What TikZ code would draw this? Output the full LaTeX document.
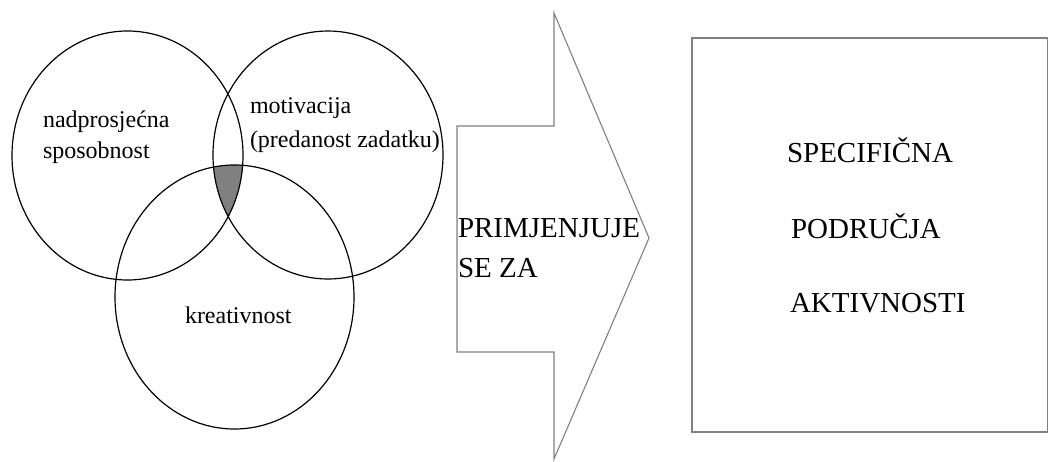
\documentclass[tikz,border=0pt]{standalone}
\usepackage{fontspec}
\newfontfamily\timesfont{LiberationSerif}[Extension=.ttf,UprightFont=*-Regular]
\begin{document}
\begin{tikzpicture}[x=1pt,y=-1pt,
  circ/.style={draw=black,line width=1.2pt},
  grayline/.style={draw=black!50,line width=1.1pt},
  lbl/.style={anchor=base west,inner sep=0pt,outer sep=0pt,font=\timesfont\fontsize{24}{28}\selectfont},
  captext/.style={anchor=base west,inner sep=0pt,outer sep=0pt,font=\timesfont\fontsize{29}{34}\selectfont}]
\useasboundingbox (0,0) rectangle (1049,461);
% shaded intersection
\begin{scope}
  \clip (127.5,155.5) ellipse [x radius=115.5, y radius=124.5];
  \clip (328,155) ellipse [x radius=115, y radius=124];
  \fill[black!50] (234.5,297) ellipse [x radius=119.5, y radius=132];
\end{scope}
% circles
\draw[circ] (127.5,155.5) ellipse [x radius=115.5, y radius=124.5];
\draw[circ] (328,155) ellipse [x radius=115, y radius=124];
\draw[circ] (234.5,297) ellipse [x radius=119.5, y radius=132];
% circle labels
\node[lbl] (n1) at (43,127) {nadprosjećna};
\node[lbl] (n2) at (43,158) {sposobnost};
\node[lbl] (m1) at (250,113) {motivacija};
\node[lbl] (m2) at (250,147) {(predanost zadatku)};
\node[lbl] (k1) at (185,323) {kreativnost};
% block arrow
\draw[grayline,line join=miter] (457,126) -- (554,126) -- (554,13) -- (649,238) -- (554,459) -- (554,352) -- (457,352) -- cycle;
\node[captext] (p1) at (458,237) {PRIMJENJUJE};
\node[captext] (p2) at (458,277) {SE ZA};
% result box
\draw[grayline] (692,38) rectangle (1047.5,432);
\node[captext] (s1) at (787,162) {SPECIFIČNA};
\node[captext] (s2) at (791,238) {PODRUČJA};
\node[captext] (s3) at (790,312) {AKTIVNOSTI};
\end{tikzpicture}
\end{document}
